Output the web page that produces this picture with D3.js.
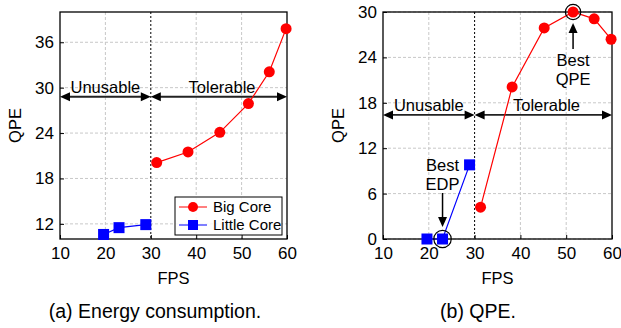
<!DOCTYPE html>
<html lang="en">
<head>
    <meta charset="UTF-8">
    <title>Energy and QPE</title>
    <script src="https://cdn.jsdelivr.net/npm/d3@7/dist/d3.min.js" charset="utf-8"></script>
    <style>
        body { margin: 0; background: #fff; }
        text { font-family: "Liberation Sans", Arial, Helvetica, sans-serif; fill: #000; }
    </style>
</head>
<body>
<script>
    // 数据
    var fpsTicks = [10, 20, 30, 40, 50, 60];
    var bigFps = [31.3, 38.2, 45.2, 51.5, 56.1, 59.8];
    var littleFps = [19.6, 23.0, 28.9];
    var bigEnergy = [20.1, 21.5, 24.1, 27.9, 32.1, 37.8];
    var littleEnergy = [10.6, 11.5, 11.9];
    var bigQpe = [4.2, 20.1, 27.9, 30.0, 29.1, 26.4];
    var littleQpe = [0, 0, 9.8];
    var energyTicks = [12, 18, 24, 30, 36];
    var qpeTicks = [0, 6, 12, 18, 24, 30];
    var seriesNames = ["Big Core", "Little Core"];
    var regionNames = ["Unusable", "Tolerable"];
    var regionBounds = [10, 30, 60];

    var width = 621;
    var height = 328;
    var svg = d3.select("body")
        .append("svg")
        .attr("width", width)
        .attr("height", height);

    var top0 = 12;
    var bottom0 = 239;

    function zip(a, b) {
        return a.map(function (d, i) { return [d, b[i]]; });
    }

    // 三角箭头, dir = 1 向右, -1 向左, 竖直时用 vert
    function arrowHead(g, x, y, dir, vert) {
        var p;
        if (vert) {
            p = [[x, y], [x - 4.5, y + 10 * dir], [x + 4.5, y + 10 * dir]];
        } else {
            p = [[x, y], [x - 10 * dir, y - 4.5], [x - 10 * dir, y + 4.5]];
        }
        g.append("path")
            .attr("d", "M" + p.join("L") + "Z")
            .attr("fill", "#000");
    }

    function drawPanel(left, right, yDomain, yTicks, big, little, arrowVal, caption) {
        var x = d3.scaleLinear().domain([10, 60]).range([left, right]);
        var y = d3.scaleLinear().domain(yDomain).range([bottom0, top0]);
        var g = svg.append("g");

        // 网格
        g.selectAll(".gx").data([20, 40, 50]).enter().append("line")
            .attr("x1", function (d) { return x(d); })
            .attr("x2", function (d) { return x(d); })
            .attr("y1", top0).attr("y2", bottom0)
            .attr("stroke", "#c8c8c8").attr("stroke-dasharray", "3,2");
        g.selectAll(".gy").data(yTicks).enter().append("line")
            .attr("x1", left).attr("x2", right)
            .attr("y1", function (d) { return y(d); })
            .attr("y2", function (d) { return y(d); })
            .attr("stroke", "#c8c8c8").attr("stroke-dasharray", "3,2");
        g.append("line")
            .attr("x1", x(30)).attr("x2", x(30))
            .attr("y1", top0).attr("y2", bottom0)
            .attr("stroke", "#000").attr("stroke-dasharray", "2,2");

        // 坐标轴
        var xAxis = d3.axisBottom(x).tickValues(fpsTicks).tickSize(-4).tickPadding(8);
        var yAxis = d3.axisLeft(y).tickValues(yTicks).tickSize(-4).tickPadding(6);
        var gx = g.append("g").attr("transform", "translate(0," + bottom0 + ")").call(xAxis);
        var gy = g.append("g").attr("transform", "translate(" + left + ",0)").call(yAxis);
        [gx, gy].forEach(function (a) {
            a.select(".domain").remove();
            a.selectAll("text").style("font-size", "17px")
                .style("font-family", "'Liberation Sans', Arial, sans-serif");
            a.selectAll(".tick line").attr("stroke", "#000");
        });
        gx.selectAll("text").attr("dy", "0.71em");

        g.append("rect")
            .attr("x", left).attr("y", top0)
            .attr("width", right - left).attr("height", bottom0 - top0)
            .attr("fill", "none").attr("stroke", "#000").attr("stroke-width", 1.3);

        // 区域箭头
        var ay = y(arrowVal);
        for (var i = 0; i < 2; i++) {
            var xa = x(regionBounds[i]);
            var xb = x(regionBounds[i + 1]);
            g.append("line")
                .attr("x1", xa + 6).attr("x2", xb - 6)
                .attr("y1", ay).attr("y2", ay)
                .attr("stroke", "#222").attr("stroke-width", 1.8);
            arrowHead(g, xa, ay, -1);
            arrowHead(g, xb, ay, 1);
            g.append("text")
                .attr("x", x([20, 45.7][i]))
                .attr("y", ay - 4)
                .attr("text-anchor", "middle")
                .style("font-size", "16.5px")
                .text(regionNames[i]);
        }

        // 数据线
        var line = d3.line()
            .x(function (d) { return x(d[0]); })
            .y(function (d) { return y(d[1]); });
        g.append("path").datum(big).attr("d", line)
            .attr("fill", "none").attr("stroke", "#ff0000").attr("stroke-width", 1.2);
        g.append("path").datum(little).attr("d", line)
            .attr("fill", "none").attr("stroke", "#0000ff").attr("stroke-width", 1.2);
        g.selectAll(".big").data(big).enter().append("circle")
            .attr("cx", function (d) { return x(d[0]); })
            .attr("cy", function (d) { return y(d[1]); })
            .attr("r", 5.5)
            .attr("fill", "#ff0000");
        g.selectAll(".little").data(little).enter().append("rect")
            .attr("x", function (d) { return x(d[0]) - 5.5; })
            .attr("y", function (d) { return y(d[1]) - 5.5; })
            .attr("width", 11).attr("height", 11)
            .attr("fill", "#0000ff");

        // 轴标题
        g.append("text")
            .attr("x", (left + right) / 2)
            .attr("y", 284)
            .attr("text-anchor", "middle")
            .style("font-size", "16.5px")
            .text("FPS");
        g.append("text")
            .attr("transform", "translate(" + (left - 39) + "," + ((top0 + bottom0) / 2) + ") rotate(-90)")
            .attr("text-anchor", "middle")
            .style("font-size", "16.5px")
            .text("QPE");
        g.append("text")
            .attr("x", caption[1])
            .attr("y", 318)
            .attr("text-anchor", "middle")
            .style("font-size", "19.5px")
            .text(caption[0]);

        return {g: g, x: x, y: y};
    }

    var pa = drawPanel(60, 287, [10, 40], energyTicks,
        zip(bigFps, bigEnergy), zip(littleFps, littleEnergy), 28.8,
        ["(a) Energy consumption.", 155]);
    var pb = drawPanel(383, 612, [0, 30], qpeTicks,
        zip(bigFps, bigQpe), zip(littleFps, littleQpe), 16.4,
        ["(b) QPE.", 478]);

    // 图例
    var lg = pa.g.append("g").attr("transform", "translate(175,197)");
    lg.append("rect")
        .attr("width", 107).attr("height", 38)
        .attr("fill", "#fff").attr("fill-opacity", 0.85)
        .attr("stroke", "#000");
    seriesNames.forEach(function (name, i) {
        var ly = 10 + i * 18;
        lg.append("line")
            .attr("x1", 4).attr("x2", 32)
            .attr("y1", ly).attr("y2", ly)
            .attr("stroke", i === 0 ? "#ff0000" : "#0000ff");
        if (i === 0) {
            lg.append("circle").attr("cx", 18).attr("cy", ly).attr("r", 5).attr("fill", "#ff0000");
        } else {
            lg.append("rect").attr("x", 13).attr("y", ly - 5).attr("width", 10).attr("height", 10).attr("fill", "#0000ff");
        }
        lg.append("text")
            .attr("x", 38).attr("y", ly + 5)
            .style("font-size", "15px")
            .text(name);
    });

    // 标注: Best QPE
    var bq = [bigFps[3], bigQpe[3]];
    var qx = pb.x(bq[0]);
    var qy = pb.y(bq[1]);
    pb.g.append("circle").attr("cx", qx).attr("cy", qy).attr("r", 7.7)
        .attr("fill", "none").attr("stroke", "#000").attr("stroke-width", 1.2);
    pb.g.append("line").attr("x1", qx).attr("x2", qx)
        .attr("y1", qy + 18).attr("y2", qy + 37)
        .attr("stroke", "#000").attr("stroke-width", 1.5);
    arrowHead(pb.g, qx, qy + 11, 1, true);
    pb.g.append("text").attr("x", qx).attr("y", 66).attr("text-anchor", "middle")
        .style("font-size", "16.5px").text("Best");
    pb.g.append("text").attr("x", qx).attr("y", 84.5).attr("text-anchor", "middle")
        .style("font-size", "16.5px").text("QPE");

    // 标注: Best EDP
    var be = [littleFps[1], littleQpe[1]];
    var ex = pb.x(be[0]);
    var ey = pb.y(be[1]);
    pb.g.append("circle").attr("cx", ex).attr("cy", ey).attr("r", 8.7)
        .attr("fill", "none").attr("stroke", "#000").attr("stroke-width", 1.2);
    pb.g.append("line").attr("x1", ex).attr("x2", ex)
        .attr("y1", ey - 46).attr("y2", ey - 20)
        .attr("stroke", "#000").attr("stroke-width", 1.5);
    arrowHead(pb.g, ex, ey - 12, -1, true);
    pb.g.append("text").attr("x", ex).attr("y", 171).attr("text-anchor", "middle")
        .style("font-size", "16.5px").text("Best");
    pb.g.append("text").attr("x", ex).attr("y", 190).attr("text-anchor", "middle")
        .style("font-size", "16.5px").text("EDP");
</script>
</body>
</html>
